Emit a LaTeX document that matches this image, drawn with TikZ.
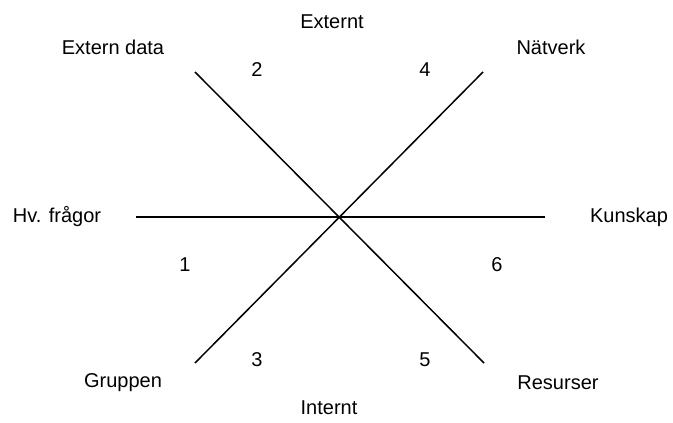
\documentclass[tikz,border=0pt]{standalone}
\usepackage{fontspec}
\setmainfont{Liberation Sans}
\begin{document}
\begin{tikzpicture}[x=1pt,y=-1pt,
  lbl/.style={font=\fontsize{20}{24}\selectfont, inner sep=0pt, anchor=center},
  axis/.style={line width=1.5pt, black}]
\useasboundingbox (0,0) rectangle (673,423);
\coordinate (c) at (340,217);
\coordinate (h1) at (136,217);
\coordinate (h2) at (545,217);
\coordinate (d1a) at (195,72);
\coordinate (d1b) at (484,363);
\coordinate (d2a) at (483,72);
\coordinate (d2b) at (195,363);
\draw[axis] (h1) -- (h2);
\draw[axis] (d1a) -- (d1b);
\draw[axis] (d2a) -- (d2b);
\node[lbl] (ext) at (332,22) {Externt};
\node[lbl] (extd) at (113,47) {Extern data};
\node[lbl] (natv) at (551,47) {Nätverk};
\node[lbl] (hv) at (57,217) {Hv. frågor};
\node[lbl] (kun) at (629,217) {Kunskap};
\node[lbl] (grp) at (123,383) {Gruppen};
\node[lbl] (res) at (558,383) {Resurser};
\node[lbl] (int) at (329,408) {Internt};
\node[lbl] (n2) at (257,70) {2};
\node[lbl] (n4) at (425,70) {4};
\node[lbl] (n1) at (185,265) {1};
\node[lbl] (n6) at (497,265) {6};
\node[lbl] (n3) at (257,360) {3};
\node[lbl] (n5) at (425,360) {5};
\end{tikzpicture}
\end{document}
